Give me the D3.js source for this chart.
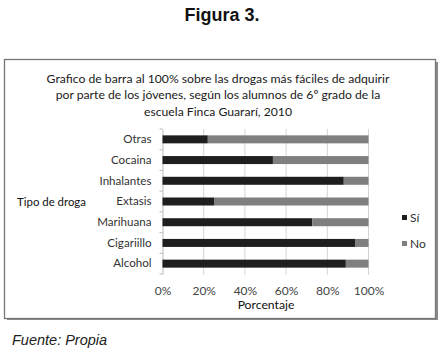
<!DOCTYPE html>
<html><head><meta charset="utf-8">
<script src="https://cdn.jsdelivr.net/npm/d3@7"></script>
<style>
body{margin:0;background:#fff;}
svg{display:block;}
</style>
</head><body>
<svg id="chart" width="447" height="353"></svg>
<script>
const categories = ["Otras","Cocaina","Inhalantes","Extasis","Marihuana","Cigariillo","Alcohol"];
const siValues = [22, 53.6, 88, 25, 72.7, 93.7, 89];
const noValues = siValues.map(v => 100 - v);
const seriesNames = ["Sí","No"];
const seriesColors = ["#1e1e1e","#7f7f7f"];
const xTicks = [0,20,40,60,80,100];
const titleLines = ["Grafico de barra al 100% sobre las drogas más fáciles de adquirir","por parte de los jóvenes, según los alumnos de 6º grado de la","escuela Finca Guararí, 2010"];

const svg = d3.select("#chart");
const chartFont = "Lato, 'Open Sans', sans-serif";

svg.append("text").attr("x",222).attr("y",21).attr("text-anchor","middle")
  .attr("font-family","Arial, 'Liberation Sans', sans-serif").attr("font-weight","bold")
  .attr("font-size",18).attr("fill","#111").text("Figura 3.");

// frame with shadow
svg.append("rect").attr("x",7).attr("y",62).attr("width",431).attr("height",258).attr("fill","#8a8a8a");
svg.append("rect").attr("x",4.5).attr("y",59.5).attr("width",431).attr("height",259)
  .attr("fill","#fff").attr("stroke","#777").attr("stroke-width",1.3);

const tg = svg.append("text").attr("text-anchor","middle").attr("font-family",chartFont)
  .attr("font-size",12.2).attr("fill","#1a1a1a");
titleLines.forEach((t,i)=>tg.append("tspan").attr("x",218).attr("y",82.5+i*16.7).text(t));

const x = d3.scaleLinear().domain([0,100]).range([162.5,368.5]);
const band = d3.scaleBand().domain(categories).range([129,274]);

// gridlines
svg.append("g").selectAll("line").data(xTicks.slice(1)).join("line")
  .attr("x1",d=>x(d)).attr("x2",d=>x(d)).attr("y1",129).attr("y2",275)
  .attr("stroke","#d4d4d4").attr("stroke-width",1);

// y axis
const yAxis = d3.axisLeft(band).tickSize(0).tickPadding(11);
const yg = svg.append("g").attr("transform",`translate(${x(0)},0)`).call(yAxis);
yg.select(".domain").attr("stroke","#bbb");
yg.selectAll("text").attr("font-family",chartFont).attr("font-size",11.6).attr("fill","#333");
// small tick marks at band boundaries
svg.append("g").selectAll("line").data(categories.concat(["_end"])).join("line")
  .attr("x1",x(0)-3).attr("x2",x(0)).attr("y1",(d,i)=>129+i*band.step()).attr("y2",(d,i)=>129+i*band.step())
  .attr("stroke","#bbb");

// x axis labels
const xAxis = d3.axisBottom(x).tickValues(xTicks).tickSize(0).tickPadding(11).tickFormat(d=>d+"%");
const xg = svg.append("g").attr("transform","translate(0,275)").call(xAxis);
xg.select(".domain").remove();
xg.selectAll("text").attr("font-family",chartFont).attr("font-size",12).attr("fill","#444");

// bars
const stacked = categories.map((c,i)=>({cat:c, parts:[[0,siValues[i]],[siValues[i],100]]}));
const bars = svg.append("g");
stacked.forEach(s=>{
  s.parts.forEach((p,j)=>{
    bars.append("rect").attr("x",x(p[0])).attr("y",band(s.cat)+band.step()/2-4)
      .attr("width",x(p[1])-x(p[0])).attr("height",8).attr("fill",seriesColors[j]);
  });
});

// axis titles
svg.append("text").attr("x",51.5).attr("y",206).attr("text-anchor","middle").attr("font-family",chartFont)
  .attr("font-size",11.4).attr("fill","#111").text("Tipo de droga");
svg.append("text").attr("x",266).attr("y",309).attr("text-anchor","middle").attr("font-family",chartFont)
  .attr("font-size",12.2).attr("fill","#111").text("Porcentaje");

// legend
const lg = svg.append("g");
seriesNames.forEach((n,i)=>{
  const yy = 218 + i*26;
  lg.append("rect").attr("x",402).attr("y",yy-3).attr("width",5).attr("height",5).attr("fill",seriesColors[i]);
  lg.append("text").attr("x",410).attr("y",yy+4).attr("font-family",chartFont).attr("font-size",12)
    .attr("fill","#333").text(n);
});

svg.append("text").attr("x",12).attr("y",345).attr("font-family","Arial, 'Liberation Sans', sans-serif")
  .attr("font-style","italic").attr("font-size",14.5).attr("fill","#222").text("Fuente: Propia");
</script>
</body></html>
